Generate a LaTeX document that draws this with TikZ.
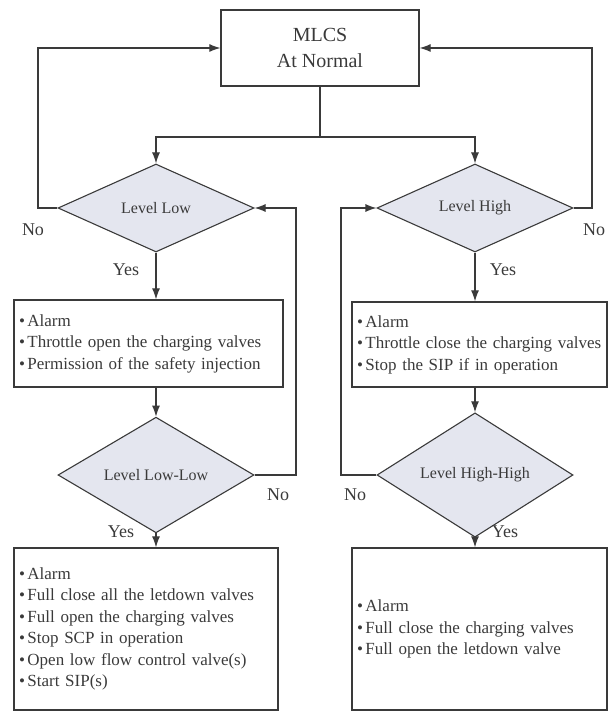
\documentclass[tikz,border=0pt]{standalone}
\usepackage{fontspec}
\setmainfont{Liberation Serif}
\usetikzlibrary{shapes.geometric,arrows.meta}
\definecolor{dfill}{HTML}{E4E6EF}
\definecolor{ink}{HTML}{3A3A3A}
\newcommand{\itm}[1]{\mbox{\textbullet\hspace{2.5pt}#1}}
\tikzset{
  actbox/.style={draw=ink, line width=1.3pt, rectangle, inner xsep=5pt, inner ysep=0pt,
    align=left, text=ink, font=\fontsize{17}{21.5}\selectfont},
  decide/.style={draw=ink, line width=1.1pt, diamond, fill=dfill, minimum width=196pt,
    minimum height=88pt, inner sep=0pt, text=ink, font=\fontsize{16}{20}\selectfont},
  flow/.style={draw=ink, line width=1.1pt, -{Latex[length=11pt,width=8pt]}},
  lbl/.style={text=ink, font=\fontsize{18}{20}\selectfont}
}
\begin{document}
\begin{tikzpicture}[x=1pt, y=-1pt]
   \useasboundingbox (0,0) rectangle (609,711);
   \node[draw=ink, line width=1.3pt, minimum width=198pt, minimum height=76pt, align=center,
     text=ink, font=\fontsize{20}{26}\selectfont] (top) at (320,48) {MLCS\\At Normal};
   \node[decide] (low) at (156,208) {Level Low};
   \node[decide] (high) at (475,208) {Level High};
   \node[actbox, text width=259pt, minimum height=87pt] (act1) at (148.5,343.5)
     {\itm{Alarm}\\ \itm{Throttle open the charging valves}\\ \itm{Permission of the safety injection}};
   \node[actbox, text width=245pt, minimum height=85pt] (act2) at (479.5,344.5)
     {\itm{Alarm}\\ \itm{Throttle close the charging valves}\\ \itm{Stop the SIP if in operation}};
   \node[decide] (lowlow) at (156,475) {Level Low-Low};
   \node[decide] (highhigh) at (475,475) {Level High-High};
   \node[actbox, text width=254pt, minimum height=162pt] (act3) at (146,629)
     {\itm{Alarm}\\ \itm{Full close all the letdown valves}\\ \itm{Full open the charging valves}\\
      \itm{Stop SCP in operation}\\ \itm{Open low flow control valve(s)}\\ \itm{Start SIP(s)}};
   \node[actbox, text width=245pt, minimum height=162pt] (act4) at (479.5,629)
     {\itm{Alarm}\\ \itm{Full close the charging valves}\\ \itm{Full open the letdown valve}};
   % split below the normal state
   \coordinate (split) at (320,137);
   \draw[ink, line width=1.1pt] (top.south) -- (split);
   \draw[flow] (split) -| (low.north);
   \draw[flow] (split) -| (high.north);
   % back to normal
   \draw[flow] (low.west) -- (38,208) |- (top.west);
   \draw[flow] (high.east) -- (592,208) |- (top.east);
   \draw[flow] (low.south) -- (act1.north -| low.south);
   \draw[flow] (act1.south -| low.south) -- (lowlow.north);
   \draw[flow] (lowlow.east) -- (296,475) |- (low.east);
   \draw[flow] (lowlow.south) -- (act3.north -| lowlow.south);
   \draw[flow] (high.south) -- (act2.north -| high.south);
   \draw[flow] (act2.south -| high.south) -- (highhigh.north);
   \draw[flow] (highhigh.west) -- (341,475) |- (high.west);
   \draw[flow] (highhigh.south) -- (act4.north -| highhigh.south);
   \node[lbl] (nolow) at (33,230) {No};
   \node[lbl] (nohigh) at (594,230) {No};
   \node[lbl] (yeslow) at (126,270) {Yes};
   \node[lbl] (yeshigh) at (503,270) {Yes};
   \node[lbl] (nolowlow) at (278,495) {No};
   \node[lbl] (nohighhigh) at (355,495) {No};
   \node[lbl] (yeslowlow) at (121,532) {Yes};
   \node[lbl] (yeshighhigh) at (505,532) {Yes};
\end{tikzpicture}
\end{document}
